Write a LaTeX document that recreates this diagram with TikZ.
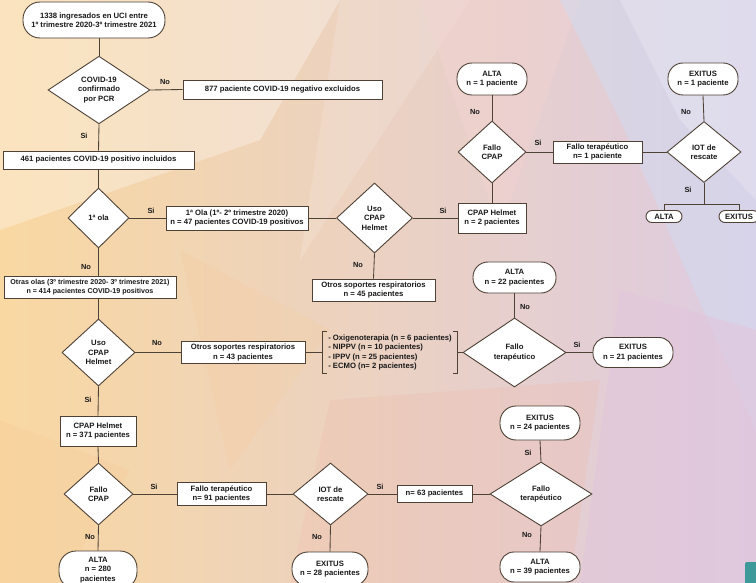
\documentclass[tikz,border=0pt]{standalone}
\usepackage{fontspec}
\setmainfont{Liberation Sans}
\usetikzlibrary{shapes.geometric}
\definecolor{ln}{HTML}{4E4136}
\definecolor{bgA}{HTML}{F9D8A2}
\definecolor{bgB}{HTML}{F4C8BA}
\definecolor{bgC}{HTML}{DDCBE2}
\definecolor{bgBlue}{HTML}{D2DCF2}
\definecolor{bgPink}{HTML}{F5D3D2}
\definecolor{bgLav}{HTML}{E2C6DC}
\definecolor{bgSal}{HTML}{EFBCAE}
\definecolor{bgOr}{HTML}{F6C895}
\definecolor{teal}{HTML}{3E9A9A}
\begin{document}
\begin{tikzpicture}[x=1pt,y=-1pt,
  every node/.style={font=\fontsize{7.7}{9.4}\selectfont\bfseries, text=black!90},
  term/.style={draw=ln, line width=0.9pt, fill=white, rectangle, rounded corners=14pt, align=center, inner sep=1pt},
  sterm/.style={draw=ln, line width=0.9pt, fill=white, rectangle, rounded corners=6pt, align=center, inner sep=1pt},
  box/.style={draw=ln, line width=0.9pt, fill=white, rectangle, align=center, inner sep=1pt},
  dia/.style={draw=ln, line width=0.9pt, fill=white, diamond, align=center, inner sep=0pt},
  lbl/.style={font=\fontsize{7.4}{8}\selectfont\bfseries},
  conn/.style={draw=ln, line width=0.85pt}]
\useasboundingbox (0,0) rectangle (756,583);
\clip (0,0) rectangle (756,583);
% ---------- background ----------
\shade[left color=bgA, middle color=bgB, right color=bgC] (0,0) rectangle (756,583);
\fill[white, fill opacity=0.3] (0,0) -- (340,0) -- (260,140) -- (0,230) -- cycle;
\fill[white, fill opacity=0.15] (340,0) -- (470,0) -- (300,260) -- cycle;
\fill[bgPink, fill opacity=0.4] (420,0) -- (580,0) -- (500,230) -- cycle;
\fill[bgBlue, fill opacity=0.5] (560,0) -- (756,0) -- (756,430) -- (690,280) -- (620,120) -- cycle;
\fill[white, fill opacity=0.2] (620,0) -- (756,0) -- (756,200) -- (680,120) -- cycle;
\fill[bgLav, fill opacity=0.55] (620,290) -- (756,330) -- (756,583) -- (580,583) -- cycle;
\fill[bgSal, fill opacity=0.3] (330,400) -- (600,380) -- (570,583) -- (290,583) -- cycle;
\fill[bgOr, fill opacity=0.25] (0,420) -- (130,470) -- (60,583) -- (0,583) -- cycle;
\fill[bgOr, fill opacity=0.18] (180,250) -- (330,330) -- (230,470) -- cycle;
\fill[teal, rounded corners=2pt] (745,562) rectangle (770,600);
% ---------- nodes ----------
\node[term, minimum width=142pt, minimum height=36pt, rounded corners=17pt] (start) at (94,20) {1338 ingresados en UCI entre\\1º trimestre 2020-3º trimestre 2021};
\node[dia, minimum width=102pt, minimum height=66pt] (d1) at (99,90) {COVID-19\\confirmado\\por PCR};
\node[box, minimum width=199pt, minimum height=19pt] (excl) at (282.5,89.5) {877 paciente COVID-19 negativo excluidos};
\node[box, minimum width=191pt, minimum height=18pt] (inc) at (98.5,160) {461 pacientes COVID-19 positivo incluidos};
\node[dia, minimum width=61pt, minimum height=60pt] (d2) at (98.5,218) {1ª ola};
\node[box, minimum width=142pt, minimum height=24pt] (ola1) at (237,218) {1ª Ola (1º- 2º trimestre 2020)\\n = 47 pacientes COVID-19 positivos};
\node[dia, minimum width=76pt, minimum height=70pt] (d3) at (374.5,218) {Uso\\CPAP\\Helmet};
\node[box, minimum width=123pt, minimum height=22pt] (otros45) at (373.5,290) {Otros soportes respiratorios\\n = 45 pacientes};
\node[box, minimum width=68pt, minimum height=30pt] (cpap2) at (492,218) {CPAP Helmet\\n = 2 pacientes};
\node[dia, minimum width=68pt, minimum height=62pt] (d4) at (492,152) {Fallo\\CPAP};
\node[term, minimum width=70pt, minimum height=32pt, rounded corners=15pt] (alta1) at (492,79) {ALTA\\n = 1 paciente};
\node[box, minimum width=89pt, minimum height=22pt] (ft1) at (597.5,152) {Fallo terapéutico\\n= 1 paciente};
\node[dia, minimum width=74pt, minimum height=61pt] (iot1) at (704,152) {IOT de\\rescate};
\node[term, minimum width=70pt, minimum height=32pt, rounded corners=15pt] (exitus1) at (703,79) {EXITUS\\n = 1 paciente};
\node[sterm, minimum width=36pt, minimum height=12pt] (altas) at (664,216.5) {ALTA};
\node[sterm, minimum width=40pt, minimum height=12pt] (exituss) at (739,216.5) {EXITUS};
\node[box, minimum width=172pt, minimum height=22pt, font=\fontsize{7.1}{9.2}\selectfont\bfseries] (otras) at (90,287) {Otras olas (3º trimestre 2020- 3º trimestre 2021)\\n = 414 pacientes COVID-19 positivos};
\node[dia, minimum width=73pt, minimum height=67pt] (d5) at (98.5,352.5) {Uso\\CPAP\\Helmet};
\node[box, minimum width=124pt, minimum height=22pt] (otros43) at (243,352.5) {Otros soportes respiratorios\\n = 43 pacientes};
\node[align=left, inner xsep=3pt, inner ysep=3pt, minimum width=134pt, minimum height=41pt] (list) at (390,352.5) {- Oxigenoterapia (n = 6 pacientes)\\- NIPPV (n = 10 pacientes)\\- IPPV (n = 25 pacientes)\\- ECMO (n= 2 pacientes)};
\node[dia, minimum width=103pt, minimum height=69pt] (d6) at (514.5,352.5) {Fallo\\terapéutico};
\node[term, minimum width=83pt, minimum height=31pt, rounded corners=15pt] (alta22) at (514.5,277.5) {ALTA\\n = 22 pacientes};
\node[term, minimum width=80pt, minimum height=30pt] (exitus21) at (633,352.5) {EXITUS\\n = 21 pacientes};
\node[box, minimum width=76pt, minimum height=30pt] (cpap371) at (98,431) {CPAP Helmet\\n = 371 pacientes};
\node[dia, minimum width=69pt, minimum height=62pt] (d7) at (98.5,494) {Fallo\\CPAP};
\node[box, minimum width=89pt, minimum height=23pt] (ft91) at (221.5,494) {Fallo terapéutico\\n= 91 pacientes};
\node[dia, minimum width=75pt, minimum height=62pt] (iot2) at (330.5,494) {IOT de\\rescate};
\node[box, minimum width=75pt, minimum height=17pt] (n63) at (434.5,494) {n= 63 pacientes};
\node[dia, minimum width=102pt, minimum height=64pt] (d8) at (541,494) {Fallo\\terapéutico};
\node[term, minimum width=80pt, minimum height=34pt, rounded corners=16pt] (exitus24) at (540,423) {EXITUS\\n = 24 pacientes};
\node[term, minimum width=80pt, minimum height=30pt] (alta39) at (540,567) {ALTA\\n = 39 pacientes};
\node[term, minimum width=78pt, minimum height=38pt, rounded corners=17pt] (alta280) at (98,570) {ALTA\\n = 280\\pacientes};
\node[term, minimum width=76pt, minimum height=34pt, rounded corners=16pt] (exitus28) at (330,569) {EXITUS\\n = 28 pacientes};
% ---------- connectors ----------
\draw[conn] (d1.north |- start.south) -- (d1.north);
\draw[conn] (d1.east) -- (excl.west);
\draw[conn] (d1.south) -- (inc.north);
\draw[conn] (inc.south) -- (d2.north);
\draw[conn] (d2.east) -- (ola1.west);
\draw[conn] (ola1.east) -- (d3.west);
\draw[conn] (d3.east) -- (cpap2.west);
\draw[conn] (d3.south) -- (otros45.north);
\draw[conn] (cpap2.north) -- (d4.south);
\draw[conn] (d4.north) -- (alta1.south);
\draw[conn] (d4.east) -- (ft1.west);
\draw[conn] (ft1.east) -- (iot1.west);
\draw[conn] (iot1.north) -- (exitus1.south);
\draw[conn] (altas.north) -- ++(0,-6) coordinate (fl) -| (exituss.north);
\draw[conn] (iot1.south) -- (iot1.south |- fl);
\draw[conn] (d2.south) -- (d2.south |- otras.north);
\draw[conn] (d5.north |- otras.south) -- (d5.north);
\draw[conn] (d5.east) -- (otros43.west);
\draw[conn] (otros43.east) -- (list.west);
\draw[conn] (list.north west) ++(4,0) -- (list.north west) -- (list.south west) -- ++(4,0);
\draw[conn] (list.north east) ++(-4,0) -- (list.north east) -- (list.south east) -- ++(-4,0);
\draw[conn] (list.east) -- (d6.west);
\draw[conn] (d6.north) -- (alta22.south);
\draw[conn] (d6.east) -- (exitus21.west);
\draw[conn] (d5.south) -- (cpap371.north);
\draw[conn] (cpap371.south) -- (d7.north);
\draw[conn] (d7.east) -- (ft91.west);
\draw[conn] (ft91.east) -- (iot2.west);
\draw[conn] (iot2.east) -- (n63.west);
\draw[conn] (n63.east) -- (d8.west);
\draw[conn] (d8.north) -- (exitus24.south);
\draw[conn] (d8.south) -- (alta39.north);
\draw[conn] (d7.south) -- (alta280.north);
\draw[conn] (iot2.south) -- (exitus28.north);
% ---------- labels ----------
\node[lbl] (l1) at (165,82) {No};
\node[lbl] (l2) at (84,136) {Si};
\node[lbl] (l3) at (151,211) {Si};
\node[lbl] (l4) at (86,267) {No};
\node[lbl] (l5) at (443,211) {Si};
\node[lbl] (l6) at (358,265) {No};
\node[lbl] (l7) at (475,112) {No};
\node[lbl] (l8) at (538,143) {Si};
\node[lbl] (l9) at (686,112) {No};
\node[lbl] (l10) at (688,190) {Si};
\node[lbl] (l11) at (157,343) {No};
\node[lbl] (l12) at (88,400) {Si};
\node[lbl] (l13) at (525,307) {No};
\node[lbl] (l14) at (577,345) {Si};
\node[lbl] (l15) at (154,487) {Si};
\node[lbl] (l16) at (380,487) {Si};
\node[lbl] (l17) at (90,537) {No};
\node[lbl] (l18) at (317,537) {No};
\node[lbl] (l19) at (528,453) {Si};
\node[lbl] (l20) at (527,535) {No};
\end{tikzpicture}
\end{document}
